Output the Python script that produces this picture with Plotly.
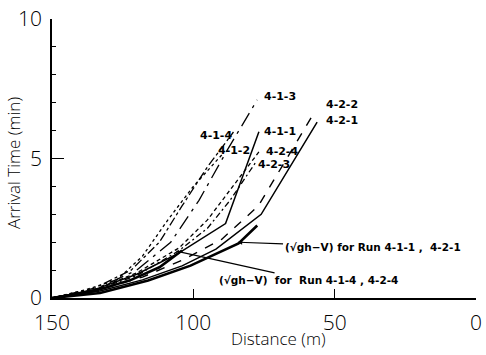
import plotly.graph_objects as go

# ---- data (Distance m, Arrival time min) ----
run_names = ["4-1-1", "4-1-2", "4-1-3", "4-1-4", "4-2-1", "4-2-2", "4-2-3", "4-2-4"]

x_411 = [150, 135, 120, 105.3, 88.6, 76.8]
y_411 = [0, 0.3, 0.85, 1.6, 2.67, 5.96]

x_412 = [150, 138, 127, 118, 109, 100, 89.3]
y_412 = [0, 0.3, 0.65, 1.5, 2.8, 4.0, 5.2]

x_413 = [150, 135, 120, 108, 98, 88, 77.4]
y_413 = [0, 0.3, 1.0, 2.0, 3.5, 5.3, 7.1]

x_414 = [150, 135, 122, 112, 104, 95, 85.8]
y_414 = [0, 0.35, 1.0, 2.0, 3.3, 4.7, 5.95]

x_421 = [150, 133, 118, 104, 92, 76, 56.2]
y_421 = [0, 0.25, 0.65, 1.15, 1.75, 3.0, 6.3]

x_422 = [150, 133, 118, 104, 90, 77, 57.2]
y_422 = [0, 0.3, 0.75, 1.35, 2.1, 3.3, 6.65]

x_423 = [150, 135, 120, 105, 95, 87, 78.1]
y_423 = [0, 0.28, 0.8, 1.7, 2.5, 3.5, 4.84]

x_424 = [150, 135, 120, 105, 95, 86, 76.7]
y_424 = [0, 0.3, 0.9, 1.8, 2.8, 4.0, 5.25]

# theoretical (sqrt(gh) - V) curves
x_th1 = [150, 133, 116, 101, 84, 77.4]
y_th1 = [0, 0.18, 0.63, 1.16, 1.96, 2.6]

x_th2 = [150, 135, 122, 112, 104]
y_th2 = [0, 0.25, 0.65, 1.1, 1.7]

# label positions for run names
label_x = [69.5, 85.5, 69.5, 92.1, 47.5, 47.5, 71.5, 68.5]
label_y = [5.96, 5.3, 7.23, 5.82, 6.35, 6.95, 4.77, 5.26]

x_ticks = [150, 100, 50, 0]
y_ticks = [0, 5, 10]

series = [
    (x_411, y_411, "solid", 1.5),
    (x_412, y_412, "dot", 1.3),
    (x_413, y_413, "longdashdot", 1.3),
    (x_414, y_414, "dashdot", 1.3),
    (x_421, y_421, "solid", 1.5),
    (x_422, y_422, "dash", 1.4),
    (x_423, y_423, "2px,3px,6px,3px", 1.3),
    (x_424, y_424, "4px,3px", 1.3),
]

fig = go.Figure()
for xs, ys, dash, w in series:
    fig.add_trace(go.Scatter(x=xs, y=ys, mode="lines",
                             line=dict(color="black", width=w, dash=dash),
                             showlegend=False, hoverinfo="skip"))
for xs, ys in [(x_th1, y_th1), (x_th2, y_th2)]:
    fig.add_trace(go.Scatter(x=xs, y=ys, mode="lines",
                             line=dict(color="black", width=2.6),
                             showlegend=False, hoverinfo="skip"))

lab_font = dict(family="DejaVu Sans", size=11, color="black")
for name, lx, ly in zip(run_names, label_x, label_y):
    fig.add_annotation(x=lx, y=ly, text="<b>" + name + "</b>", showarrow=False,
                       font=lab_font)

ann_font = dict(family="DejaVu Sans", size=10.5, color="black")
fig.add_annotation(x=84.4, y=2.0, ax=36.6, ay=1.82, axref="x", ayref="y",
                   text="<b>(√gh−V) for Run 4-1-1 ,  4-2-1</b>",
                   showarrow=True, arrowhead=2, arrowsize=0.8, arrowwidth=1.2,
                   arrowcolor="black", font=ann_font)
fig.add_annotation(x=106, y=1.68, ax=59.3, ay=0.63, axref="x", ayref="y",
                   text="<b>(√gh−V)  for  Run 4-1-4 , 4-2-4</b>",
                   showarrow=True, arrowhead=0, arrowwidth=1.2,
                   arrowcolor="black", font=ann_font)

title_font = dict(family="Open Sans", size=17, weight=300, color="black")
fig.add_annotation(xref="paper", yref="paper", x=0.535, y=-0.145,
                   xanchor="center", yanchor="middle", showarrow=False,
                   text="Distance (m)", font=title_font)
fig.add_annotation(xref="paper", yref="paper", x=-0.0895, y=0.484,
                   xanchor="center", yanchor="middle", showarrow=False,
                   textangle=-90, text="Arrival Time (min)", font=title_font)

axfont = dict(size=21, family="Open Sans", weight=300, color="black")
fig.update_layout(
    width=486, height=355,
    margin=dict(l=52, r=4, t=13, b=57),
    paper_bgcolor="white", plot_bgcolor="white",
    font=dict(family="Open Sans", color="black"),
)
fig.update_xaxes(range=[150, 0], tickvals=x_ticks, ticktext=[str(v) for v in x_ticks],
                 showgrid=False, zeroline=False, showline=True, linecolor="black",
                 linewidth=1.5, ticks="inside", ticklen=9, tickwidth=1.2,
                 tickcolor="black", tickfont=axfont,
                 ticklabelstandoff=5, ticklabeloverflow="allow")
fig.update_yaxes(range=[0, 10], tickvals=y_ticks,
                 showgrid=False, zeroline=False, showline=True, linecolor="black",
                 linewidth=1.5, ticks="inside", ticklen=12, tickwidth=1.2,
                 tickcolor="black", tickfont=axfont,
                 ticklabelstandoff=4, ticklabeloverflow="allow",
                 minor=dict(dtick=1, ticks="inside", ticklen=4, tickcolor="black",
                            showgrid=False))

fig.write_html("out.html")
